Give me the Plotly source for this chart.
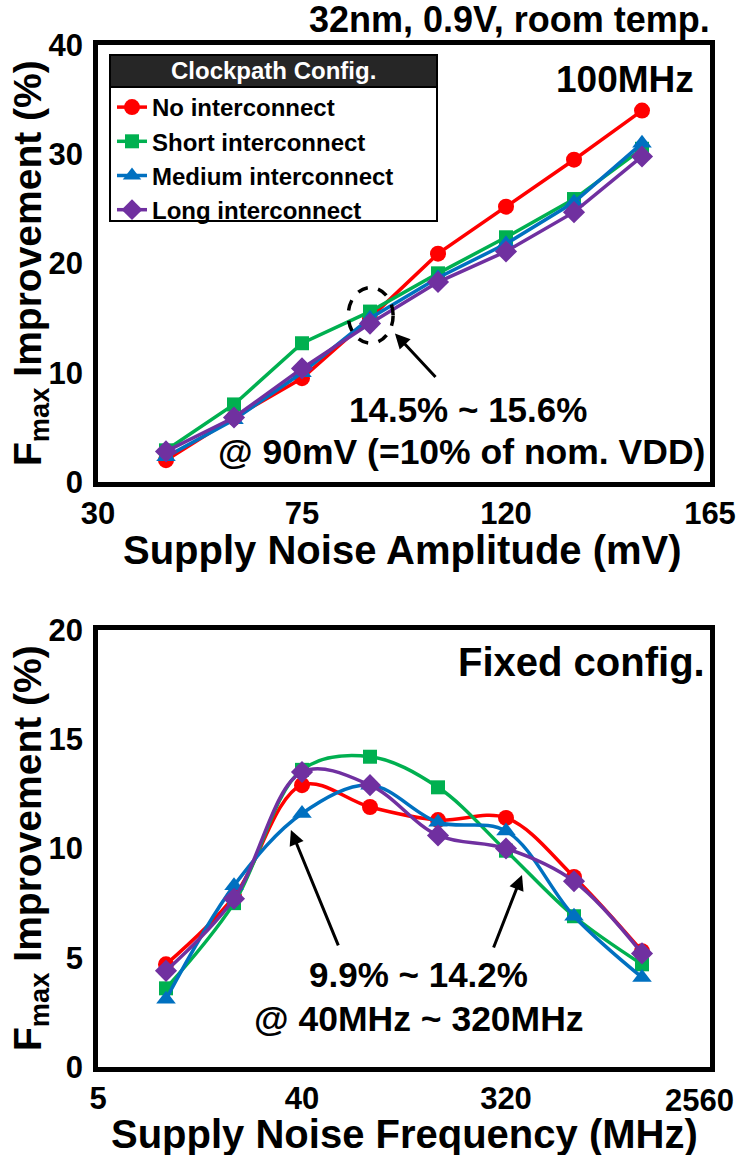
import numpy as np
import plotly.graph_objects as go

# ---- data ----
series_names = ["No interconnect", "Short interconnect", "Medium interconnect", "Long interconnect"]
series_colors = ["#FF0000", "#00B050", "#0070C0", "#7030A0"]
series_symbols = ["circle", "square", "triangle-up", "diamond"]
series_sizes = [16, 14, 17, 17]

# Fmax improvement vs. supply noise amplitude (100 MHz noise)
amplitude_mv = [45, 60, 75, 90, 105, 120, 135, 150]
amp_no_ic = [2.0, 5.9, 9.5, 15.0, 20.9, 25.2, 29.5, 34.0]
amp_short_ic = [2.9, 7.1, 12.7, 15.6, 19.1, 22.4, 25.9, 30.5]
amp_medium_ic = [2.3, 5.7, 10.0, 15.0, 18.7, 21.8, 25.6, 31.0]
amp_long_ic = [2.8, 5.9, 10.4, 14.5, 18.3, 21.1, 24.7, 29.8]

# Fmax improvement vs. supply noise frequency (fixed config.)
frequency_mhz = [10, 20, 40, 80, 160, 320, 640, 1280]
freq_no_ic = [4.7, 7.8, 12.9, 11.9, 11.3, 11.4, 8.7, 5.3]
freq_short_ic = [3.6, 7.5, 13.6, 14.2, 12.8, 9.9, 6.9, 4.7]
freq_medium_ic = [3.1, 8.3, 11.6, 12.9, 11.2, 10.8, 6.9, 4.1]
freq_long_ic = [4.4, 7.7, 13.5, 12.9, 10.6, 10.0, 8.5, 5.2]

amp_ticks = [30, 75, 120, 165]
freq_ticks = [5, 40, 320, 2560]

W, H = 736, 1155
FONT = "Liberation Sans, Arial, sans-serif"


def px(x):
    return x / W


def py(y):
    return 1 - y / H


fig = go.Figure()

amp_series = [amp_no_ic, amp_short_ic, amp_medium_ic, amp_long_ic]
freq_series = [freq_no_ic, freq_short_ic, freq_medium_ic, freq_long_ic]

for name, col, sym, sz, ys in zip(series_names, series_colors, series_symbols, series_sizes, amp_series):
    fig.add_trace(go.Scatter(
        x=amplitude_mv, y=ys, name=name, mode="lines+markers",
        line=dict(color=col, width=3.5),
        marker=dict(symbol=sym, size=sz, color=col, line=dict(width=0)),
        xaxis="x", yaxis="y", showlegend=True,
    ))

for name, col, sym, sz, ys in zip(series_names, series_colors, series_symbols, series_sizes, freq_series):
    fig.add_trace(go.Scatter(
        x=frequency_mhz, y=ys, name=name, mode="lines+markers",
        line=dict(color=col, width=3.5, shape="spline", smoothing=1),
        marker=dict(symbol=sym, size=sz, color=col, line=dict(width=0)),
        xaxis="x2", yaxis="y2", showlegend=False,
    ))

tick_font = dict(family=FONT, size=31, color="black", weight="bold")
frame = dict(showline=True, mirror=True, linecolor="black", linewidth=4.5,
             showgrid=False, zeroline=False, ticks="", tickfont=tick_font,
             automargin=False)

# the last frequency tick sits on the page edge; its label is placed separately below
freq_axis_ticks = freq_ticks[:-1]

fig.update_layout(
    width=W, height=H,
    margin=dict(l=0, r=0, t=0, b=0, autoexpand=False),
    paper_bgcolor="white", plot_bgcolor="white",
    font=dict(family=FONT, color="black"),
    xaxis=dict(domain=[px(98), px(710)], range=[30, 165], tickvals=amp_ticks,
               anchor="y", ticklabelstandoff=0, **frame),
    yaxis=dict(domain=[py(482), py(45)], range=[0, 40], tickvals=[0, 10, 20, 30, 40],
               anchor="x", ticklabelstandoff=4, **frame),
    xaxis2=dict(domain=[px(98), px(710)], type="log",
                range=[np.log10(5), np.log10(2560)], tickvals=freq_axis_ticks,
                ticktext=[str(t) for t in freq_axis_ticks],
                anchor="y2", ticklabelstandoff=0, **frame),
    yaxis2=dict(domain=[py(1067), py(630)], range=[0, 20], tickvals=[0, 5, 10, 15, 20],
                anchor="x2", ticklabelstandoff=4, **frame),
    legend=dict(x=px(112), y=py(85), xanchor="left", yanchor="top",
                bgcolor="rgba(0,0,0,0)", borderwidth=0,
                font=dict(family=FONT, size=24, color="black", weight="bold"),
                itemwidth=30, tracegroupgap=0),
)

# legend box with dark header
fig.add_shape(type="rect", xref="paper", yref="paper",
              x0=px(110), x1=px(437), y0=py(221), y1=py(55),
              fillcolor="white", line=dict(color="black", width=2), layer="above")
fig.add_shape(type="rect", xref="paper", yref="paper",
              x0=px(110), x1=px(437), y0=py(87), y1=py(55),
              fillcolor="#262626", line=dict(color="black", width=2), layer="above")

# dashed ellipse around the 90 mV points
fig.add_shape(type="circle", xref="x", yref="y",
              x0=85.2, x1=95.1, y0=12.7, y1=17.8,
              line=dict(color="black", width=3.5, dash="dash"), layer="above")

ann = []


def text(x, y, s, size, color="black", xanchor="center", angle=0):
    ann.append(dict(x=px(x), y=py(y), xref="paper", yref="paper", text=s,
                    showarrow=False, xanchor=xanchor, yanchor="middle",
                    textangle=angle,
                    font=dict(family=FONT, size=size, color=color, weight="bold")))


text(273, 71, "Clockpath Config.", 24, color="white")
text(712, 20, "32nm, 0.9V, room temp.", 36, xanchor="right")
text(696, 80, "100MHz", 37, xanchor="right")
text(707, 662, "Fixed config.", 40, xanchor="right")
text(468, 410, "14.5% ~ 15.6%", 35)
text(461, 452, "@ 90mV (=10% of nom. VDD)", 35.5)
text(419, 975, "9.9% ~ 14.2%", 35)
text(419, 1019, "@ 40MHz ~ 320MHz", 35.5)
text(402, 550, "Supply Noise Amplitude (mV)", 40)
text(404, 1134, "Supply Noise Frequency (MHz)", 40)
text(30, 263, "F<sub>max</sub> Improvement (%)", 39, angle=-90)
text(30, 848, "F<sub>max</sub> Improvement (%)", 39, angle=-90)

# label of the last frequency tick, pulled inside the page
ann.append(dict(x=np.log10(freq_ticks[-1]), y=py(1100), xref="x2", yref="paper",
                text=str(freq_ticks[-1]), showarrow=False, xanchor="right",
                yanchor="middle", xshift=26, font=tick_font))

# arrows
arrow = dict(showarrow=True, arrowhead=2, arrowsize=1, arrowwidth=3,
             arrowcolor="black", text="", axref="pixel", ayref="pixel")
ann.append(dict(x=95.5, y=13.6, xref="x", yref="y", ax=42, ay=45, **arrow))
ann.append(dict(x=1.553, y=10.85, xref="x2", yref="y2", ax=48, ay=117, **arrow))
ann.append(dict(x=2.576, y=8.79, xref="x2", yref="y2", ax=-29, ay=74, **arrow))

fig.update_layout(annotations=ann)
fig.write_html("out.html")
